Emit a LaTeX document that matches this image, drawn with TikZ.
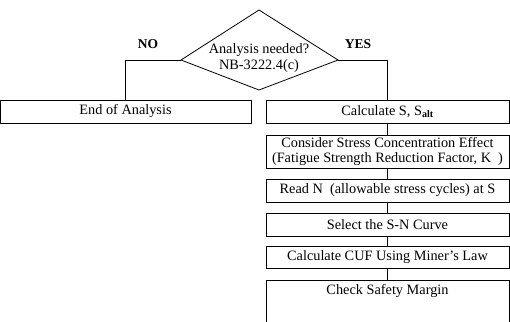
\documentclass[tikz,border=0pt]{standalone}
\usepackage{fontspec}
\setmainfont{Liberation Serif}
\usetikzlibrary{positioning}

\begin{document}
\begin{tikzpicture}[x=1pt,y=-1pt,
		font=\fontsize{14.3}{15.5}\selectfont,
		line width=0.8pt,
		box/.style={draw, inner sep=0pt, minimum height=23pt, align=center},
		leftbox/.style={box, minimum width=251pt},
		rightbox/.style={box, minimum width=243pt},
		answer/.style={font=\fontsize{13.5}{15}\selectfont\bfseries}
	]
		\useasboundingbox (0,0) rectangle (510,321);
		\clip (0,0) rectangle (510,321);

		% decision kite
		\coordinate (dtop) at (259,10);
		\coordinate (dleft) at (181,60);
		\coordinate (dright) at (338,60);
		\coordinate (dbot) at (259,90);
		\draw (dtop) -- (dright) -- (dbot) -- (dleft) -- cycle;
		\node[align=center, inner sep=0pt] (ask) at (259,58) {Analysis needed?\\NB-3222.4(c)};

		\node[answer] (no) at (148,44) {NO};
		\node[answer] (yes) at (358,44) {YES};

		% left branch
		\node[leftbox] (stop) at (125.5,111.5) {End of Analysis};

		% right branch
		\node[rightbox] (calc) at (387.5,111.5) {Calculate S, S\textsubscript{\bfseries alt}};
		\node[rightbox, minimum height=33pt] (kfac) at (387.5,151.5)
			{Consider Stress Concentration Effect\\(Fatigue Strength Reduction Factor, K~~)};
		\node[rightbox] (readn) at (387.5,190.5) {Read N~~(allowable stress cycles) at S};
		\node[rightbox] (sncurve) at (387.5,224.5) {Select the S-N Curve};
		\node[rightbox, minimum height=22pt] (cuf) at (387.5,257) {Calculate CUF Using Miner's Law};
		\node[rightbox, minimum height=46pt, anchor=north] (margin) at (387.5,280) {};
		\node (margintxt) at (387.5,291) {Check Safety Margin};

		\draw (dleft) -| (stop.north);
		\draw (dright) -| (calc.north);
		\draw (calc) -- (kfac);
		\draw (kfac) -- (readn);
		\draw (readn) -- (sncurve);
		\draw (sncurve) -- (cuf);
		\draw (cuf) -- (margin);

	\end{tikzpicture}
\end{document}
